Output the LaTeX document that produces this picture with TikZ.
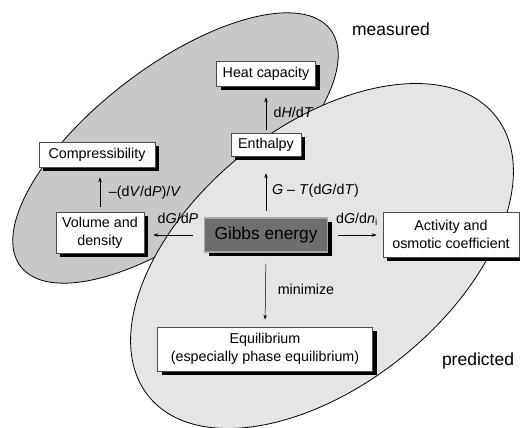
\documentclass[tikz,border=0pt]{standalone}
\usepackage{fontspec}
\setmainfont{Liberation Sans}
\usetikzlibrary{shadows,arrows.meta}

\begin{document}
\begin{tikzpicture}[x=1pt,y=-1pt,
    box/.style={draw=black!70, fill=white, line width=0.6pt, align=center, inner sep=0pt,
        font=\fontsize{14.3}{18}\selectfont,
        drop shadow={shadow xshift=4pt, shadow yshift=-4pt, fill=black, opacity=1}},
    gibbsbox/.style={box, draw=black!35, fill=black!57, line width=1.5pt, font=\fontsize{17.3}{20}\selectfont},
    link/.style={-{Stealth[length=5pt,width=3.5pt]}, line width=0.5pt},
    lbl/.style={font=\fontsize{14.3}{17}\selectfont, inner sep=0pt},
    region/.style={font=\fontsize{17.5}{20}\selectfont, inner sep=0pt}]
    % Colours of the two regions
    \definecolor{measuredgray}{RGB}{200,200,200}
    \definecolor{predictedgray}{RGB}{229,229,229}

    \useasboundingbox (0,0) rectangle (520,428);

    % Measured region (behind)
    \draw[fill=measuredgray, line width=0.8pt, rotate around={37.4:(175.5,148)}]
        (175.5,148) ellipse [x radius=195pt, y radius=82pt];
    % Predicted region (on top)
    \draw[fill=predictedgray, line width=0.8pt, rotate around={39:(322,256)}]
        (322,256) ellipse [x radius=223pt, y radius=129pt];

    % Boxes
    \node[box, minimum width=99pt, minimum height=25pt] (heat) at (266,73.5) {Heat capacity};
    \node[box, minimum width=70pt, minimum height=23pt] (enth) at (266,144.5) {Enthalpy};
    \node[box, minimum width=116pt, minimum height=25pt] (comp) at (97,154.5) {Compressibility};
    \node[box, minimum width=88pt, minimum height=41pt] (vol) at (100,232.5) {Volume and\\density};
    \node[gibbsbox, minimum width=123pt, minimum height=34pt] (gibbs) at (266,235) {Gibbs energy};
    \node[box, minimum width=136pt, minimum height=45pt] (act) at (451,234.5) {Activity and\\osmotic coefficient};
    \node[box, minimum width=215pt, minimum height=44pt] (equil) at (265,349) {Equilibrium\\(especially phase equilibrium)};

    % Arrows
    \draw[link, shorten <=6pt, shorten >=17pt] (gibbs.north) -- (enth.south);
    \draw[link, shorten <=3pt, shorten >=11pt] (enth.north) -- (heat.south);
    \draw[link, shorten <=11pt, shorten >=9pt] (gibbs.west) -- (gibbs.west -| vol.east);
    \draw[link, shorten <=5pt, shorten >=10pt] (vol.north) -- (vol.north |- comp.south);
    \draw[link, shorten <=10pt, shorten >=6pt] (gibbs.east) -- (gibbs.east -| act.west);
    \draw[link, shorten <=11pt, shorten >=7pt] (gibbs.south) -- (equil.north);

    % Arrow labels
    \node[lbl] (dhdt) at (293.5,112) {d\textit{H}/d\textit{T}};
    \node[lbl] (gtdg) at (315.5,191) {\textit{G} – \textit{T}(d\textit{G}/d\textit{T})};
    \node[lbl] (dgdp) at (178,218) {d\textit{G}/d\textit{P}};
    \node[lbl] (dvdp) at (145,193) {–(d\textit{V}/d\textit{P})/\textit{V}};
    \node[lbl] (dgdn) at (357,219) {d\textit{G}/d\textit{n}\textsubscript{i}};
    \node[lbl] (minlbl) at (306,289) {minimize};

    % Region labels
    \node[region] (meas) at (391,29) {measured};
    \node[region] (pred) at (478,361) {predicted};
\end{tikzpicture}
\end{document}
